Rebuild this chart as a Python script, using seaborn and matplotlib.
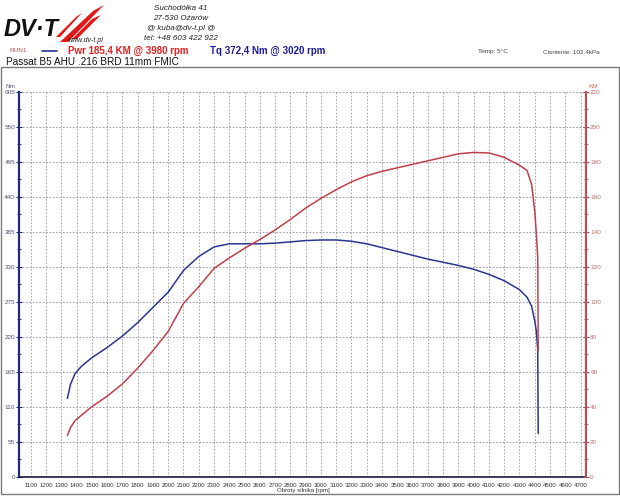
import numpy as np
import pandas as pd
import matplotlib
matplotlib.use("Agg")
import matplotlib.pyplot as plt
import seaborn as sns
from matplotlib.ticker import MultipleLocator
from matplotlib.patches import Polygon, Rectangle

# ---------------- data ----------------
rpm_tq = [1340, 1360, 1390, 1430, 1500, 1600, 1700, 1800, 1900, 2000, 2100, 2200,
          2300, 2400, 2500, 2600, 2700, 2800, 2900, 3000, 3100, 3200, 3300, 3400,
          3500, 3600, 3700, 3800, 3900, 4000, 4100, 4200, 4300, 4350, 4380, 4400,
          4410, 4420, 4423]
torque_nm = [123, 145, 162, 173, 187, 203, 221, 242, 266, 290, 324, 346,
             361, 366, 366, 366, 367, 369, 371, 372, 372, 370, 366, 360,
             354, 348, 342, 337, 332, 326, 318, 308, 294, 282, 268, 245,
             230, 200, 68]

rpm_pwr = [1340, 1360, 1390, 1430, 1500, 1600, 1700, 1800, 1900, 2000, 2100, 2200,
           2300, 2400, 2500, 2600, 2700, 2800, 2900, 3000, 3100, 3200, 3300, 3400,
           3500, 3600, 3700, 3800, 3900, 4000, 4100, 4200, 4300, 4350, 4380, 4400,
           4410, 4420, 4423]
power_km = [23.5, 28, 32, 35, 40, 46, 53, 62, 72, 83, 99, 108.5,
            119, 125, 130.5, 135.5, 141, 147, 153.5, 159, 164, 168.5, 172, 174.5,
            176.5, 178.5, 180.5, 182.5, 184.5, 185.3, 185, 182.5, 178, 175, 167, 152,
            140, 125, 72]

nm_ticks = list(range(0, 606, 55))
km_ticks = list(range(0, 221, 20))
rpm_ticks = list(range(1100, 4701, 100))

title_line = "Passat B5 AHU .216 BRD 11mm FMIC"
pwr_text = "Pwr 185,4 KM @ 3980 rpm"
tq_text = "Tq 372,4 Nm @ 3020 rpm"
address = ["Suchodółka 41", "27-530 Ożarów", "@ kuba@dv-t.pl @", "tel: +48 603 422 922"]

# ---------------- style ----------------
sns.set_style("white")
plt.rcParams["font.family"] = ["Liberation Sans", "DejaVu Sans"]

W, H = 620, 496
fig = plt.figure(figsize=(W / 100, H / 100), dpi=100)


def px(x, y):
    return x / W, 1 - y / H


BLUE = "#2a3590"
RED = "#c0404a"
AX_BLUE = "#1e2a7c"
AX_RED = "#b5505a"

x0, x1, y0, y1 = 19.3, 586, 91.7, 476.7
ax = fig.add_axes([x0 / W, 1 - y1 / H, (x1 - x0) / W, (y1 - y0) / H])
ax.set_facecolor("white")

df_t = pd.DataFrame({"rpm": rpm_tq, "Nm": torque_nm})
df_p = pd.DataFrame({"rpm": rpm_pwr, "KM": power_km})

sns.lineplot(data=df_t, x="rpm", y="Nm", ax=ax, color=BLUE, lw=1.1,
             estimator=None, sort=False)
ax.set_xlim(1025, 4736)
ax.set_ylim(0, 605)

ax2 = ax.twinx()
sns.lineplot(data=df_p, x="rpm", y="KM", ax=ax2, color=RED, lw=1.1,
             estimator=None, sort=False)
ax2.set_ylim(0, 220)

# grid
for r in rpm_ticks:
    ax.axvline(r, color="#9a9a9a", lw=0.6, ls=(0, (2, 2)), zorder=0)
for v in nm_ticks[1:]:
    ax.axhline(v, color="#8a8aa8", lw=0.6, ls=(0, (2, 2)), zorder=0)

# ticks
ax.set_xticks(rpm_ticks)
ax.set_xticklabels([str(r) for r in rpm_ticks])
ax.xaxis.set_minor_locator(MultipleLocator(20))
ax.set_yticks(nm_ticks)
ax.yaxis.set_minor_locator(MultipleLocator(27.5))
ax2.set_yticks(km_ticks)
ax2.yaxis.set_minor_locator(MultipleLocator(10))

ax.tick_params(axis="x", which="major", labelsize=4.4, length=3.5, width=0.8,
               color="#222222", labelcolor="#333333", direction="out", pad=0.8)
ax.tick_params(axis="x", which="minor", length=2.5, width=0.6, color="#222222",
               direction="out")
ax.tick_params(axis="y", which="major", labelsize=4.6, length=4, width=0.8,
               color=AX_BLUE, labelcolor="#555577", direction="inout", pad=1)
ax.tick_params(axis="y", which="minor", length=3, width=0.6, color=AX_BLUE,
               direction="inout")
ax2.tick_params(axis="y", which="major", labelsize=4.6, length=4, width=0.8,
                color=AX_RED, labelcolor="#c07070", direction="inout", pad=1)
ax2.tick_params(axis="y", which="minor", length=3, width=0.6, color=AX_RED,
                direction="inout")

ax.set_xlabel("")
ax.set_ylabel("")
ax2.set_ylabel("")

for a in (ax, ax2):
    a.spines["top"].set_visible(False)
ax.spines["left"].set_color(AX_BLUE)
ax.spines["left"].set_linewidth(1.6)
ax.spines["right"].set_visible(False)
ax.spines["bottom"].set_color("#1a1a3a")
ax.spines["bottom"].set_linewidth(1.2)
ax2.spines["left"].set_visible(False)
ax2.spines["bottom"].set_visible(False)
ax2.spines["right"].set_color(AX_RED)
ax2.spines["right"].set_linewidth(1.6)

# axis unit labels
fig.text(*px(10, 86), "Nm", fontsize=4.6, color="#555577", ha="center", va="center")
fig.text(*px(593, 86), "KM", fontsize=4.6, color="#c07070", ha="center", va="center")
fig.text(*px(303, 490.5), "Obroty silnika [rpm]", fontsize=4.4, color="#333333",
         ha="center", va="center")

# outer frame
fig.patches.append(Rectangle(px(1, 494), 618 / W, (494 - 67) / H, transform=fig.transFigure,
                             fill=False, edgecolor="#7a7a7a", lw=1.0))

# ---------------- header ----------------
fig.text(*px(4, 29), "DV·T", fontsize=17, fontweight="bold", style="italic",
         color="#111111", ha="left", va="center")
flames = [
    [(60, 42), (68, 42), (104, 5), (93, 11)],
    [(72, 39), (77, 39), (101, 15), (92, 19)],
    [(56, 37), (60, 37), (82, 13), (76, 17)],
]
for pts in flames:
    fig.patches.append(Polygon([px(*p) for p in pts], closed=True,
                               transform=fig.transFigure, facecolor="#e01818",
                               edgecolor="none"))
fig.text(*px(68, 40), "www.dv-t.pl", fontsize=5, style="italic", color="#222222",
         ha="left", va="center")

for i, line in enumerate(address):
    fig.text(*px(181, 8 + i * 10.3), line, fontsize=5.8, style="italic",
             color="#222222", ha="center", va="center")

fig.text(*px(9, 51), "RUN1", fontsize=4.6, color="#c05050", ha="left", va="center")
fig.lines.append(plt.Line2D([42 / W, 57 / W], [1 - 50.5 / H, 1 - 50.5 / H],
                            transform=fig.transFigure, color=BLUE, lw=1.2))
fig.text(*px(68, 51), pwr_text, fontsize=7.0, fontweight="bold", color="#e02020",
         ha="left", va="center")
fig.text(*px(210, 51), tq_text, fontsize=7.0, fontweight="bold", color="#1c1c9a",
         ha="left", va="center")
fig.text(*px(478, 52), "Temp: 5°C", fontsize=4.6, color="#444444", ha="left", va="center")
fig.text(*px(543, 52), "Cisnienie: 102.4kPa", fontsize=4.6, color="#444444",
         ha="left", va="center")
fig.text(*px(6, 62), title_line, fontsize=7.2, color="#111111", ha="left", va="center")

fig.savefig("out.png", dpi=100, facecolor="white")
